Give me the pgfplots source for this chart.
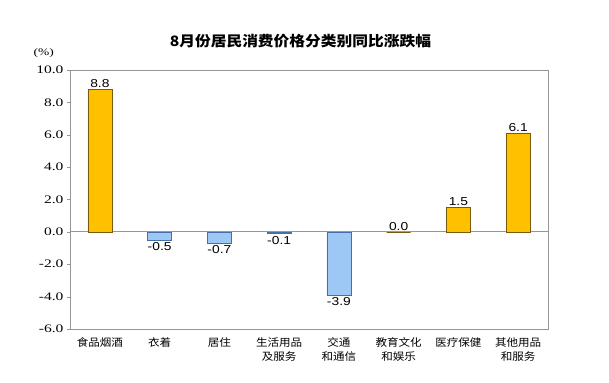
\documentclass[border=0pt]{standalone}
\usepackage{pgfplots}
\pgfplotsset{compat=1.18}
\usepackage{fontspec}
\setmainfont[FakeStretch=1.2]{Liberation Sans}
\newfontfamily\cjk[FakeStretch=1.1]{Noto Sans CJK SC}
\newfontfamily\tnr[FakeStretch=1.35]{Liberation Serif}
\definecolor{barO}{RGB}{255,192,0}
\definecolor{barOe}{RGB}{120,90,10}
\definecolor{barB}{RGB}{157,200,245}
\definecolor{barBe}{RGB}{70,110,170}
\definecolor{axgray}{RGB}{150,150,150}
\begin{document}
\begin{tikzpicture}
\path (0pt,0pt) rectangle (609pt,382pt);
\begin{axis}[
  at={(70pt,53pt)}, anchor=south west,
  width=478pt, height=259pt, scale only axis,
  xmin=-0.5, xmax=7.5, ymin=-6, ymax=10,
  ytick={-6,-4,...,10},
  xtick={0,...,7},
  xticklabels={食品烟酒,衣着,居住,{生活用品\\及服务},{交通\\和通信},{教育文化\\和娱乐},医疗保健,{其他用品\\和服务}},
  x tick label style={font=\cjk\fontsize{10.5}{14}\selectfont, align=center, anchor=north, yshift=-2pt},
  y tick label style={font=\tnr\fontsize{11.5}{12}\selectfont},
  /pgf/number format/assume math mode=true,
  yticklabel={\pgfmathprintnumber[fixed,fixed zerofill,precision=1]{\tick}},
  major tick length=3pt,
  xtick style={draw=none},
  ytick style={draw=axgray},
  tick align=outside,
  ytick pos=left,
  axis line style={draw=axgray, line width=0.8pt},
  ybar, bar width=24pt, bar shift=0pt,
  nodes near coords={\pgfmathprintnumber[fixed,fixed zerofill,precision=1]{\pgfplotspointmeta}},
  nodes near coords style={font=\fontsize{11.5}{12}\selectfont, text=black},
  clip=false,
]
\draw[axgray, line width=0.8pt] (axis cs:-0.5,0) -- (axis cs:7.5,0);
\addplot[fill=barO, draw=barOe, line width=0.5pt,
  nodes near coords style={anchor=south, inner sep=1.5pt}]
  coordinates {(0,8.8) (5,0.0) (6,1.5) (7,6.1)};
\addplot[fill=barB, draw=barBe, line width=0.5pt,
  nodes near coords style={anchor=north, inner sep=2.5pt}]
  coordinates {(1,-0.5) (2,-0.7) (3,-0.1) (4,-3.9)};
\node[font=\tnr\fontsize{10}{12}\selectfont, anchor=south] at (rel axis cs:-0.055,1.035) {(\%)};
\node[font=\cjk\bfseries\fontsize{14.3}{16}\selectfont] at (rel axis cs:0.482,1.11) {8月份居民消费价格分类别同比涨跌幅};
\end{axis}
\end{tikzpicture}
\end{document}
